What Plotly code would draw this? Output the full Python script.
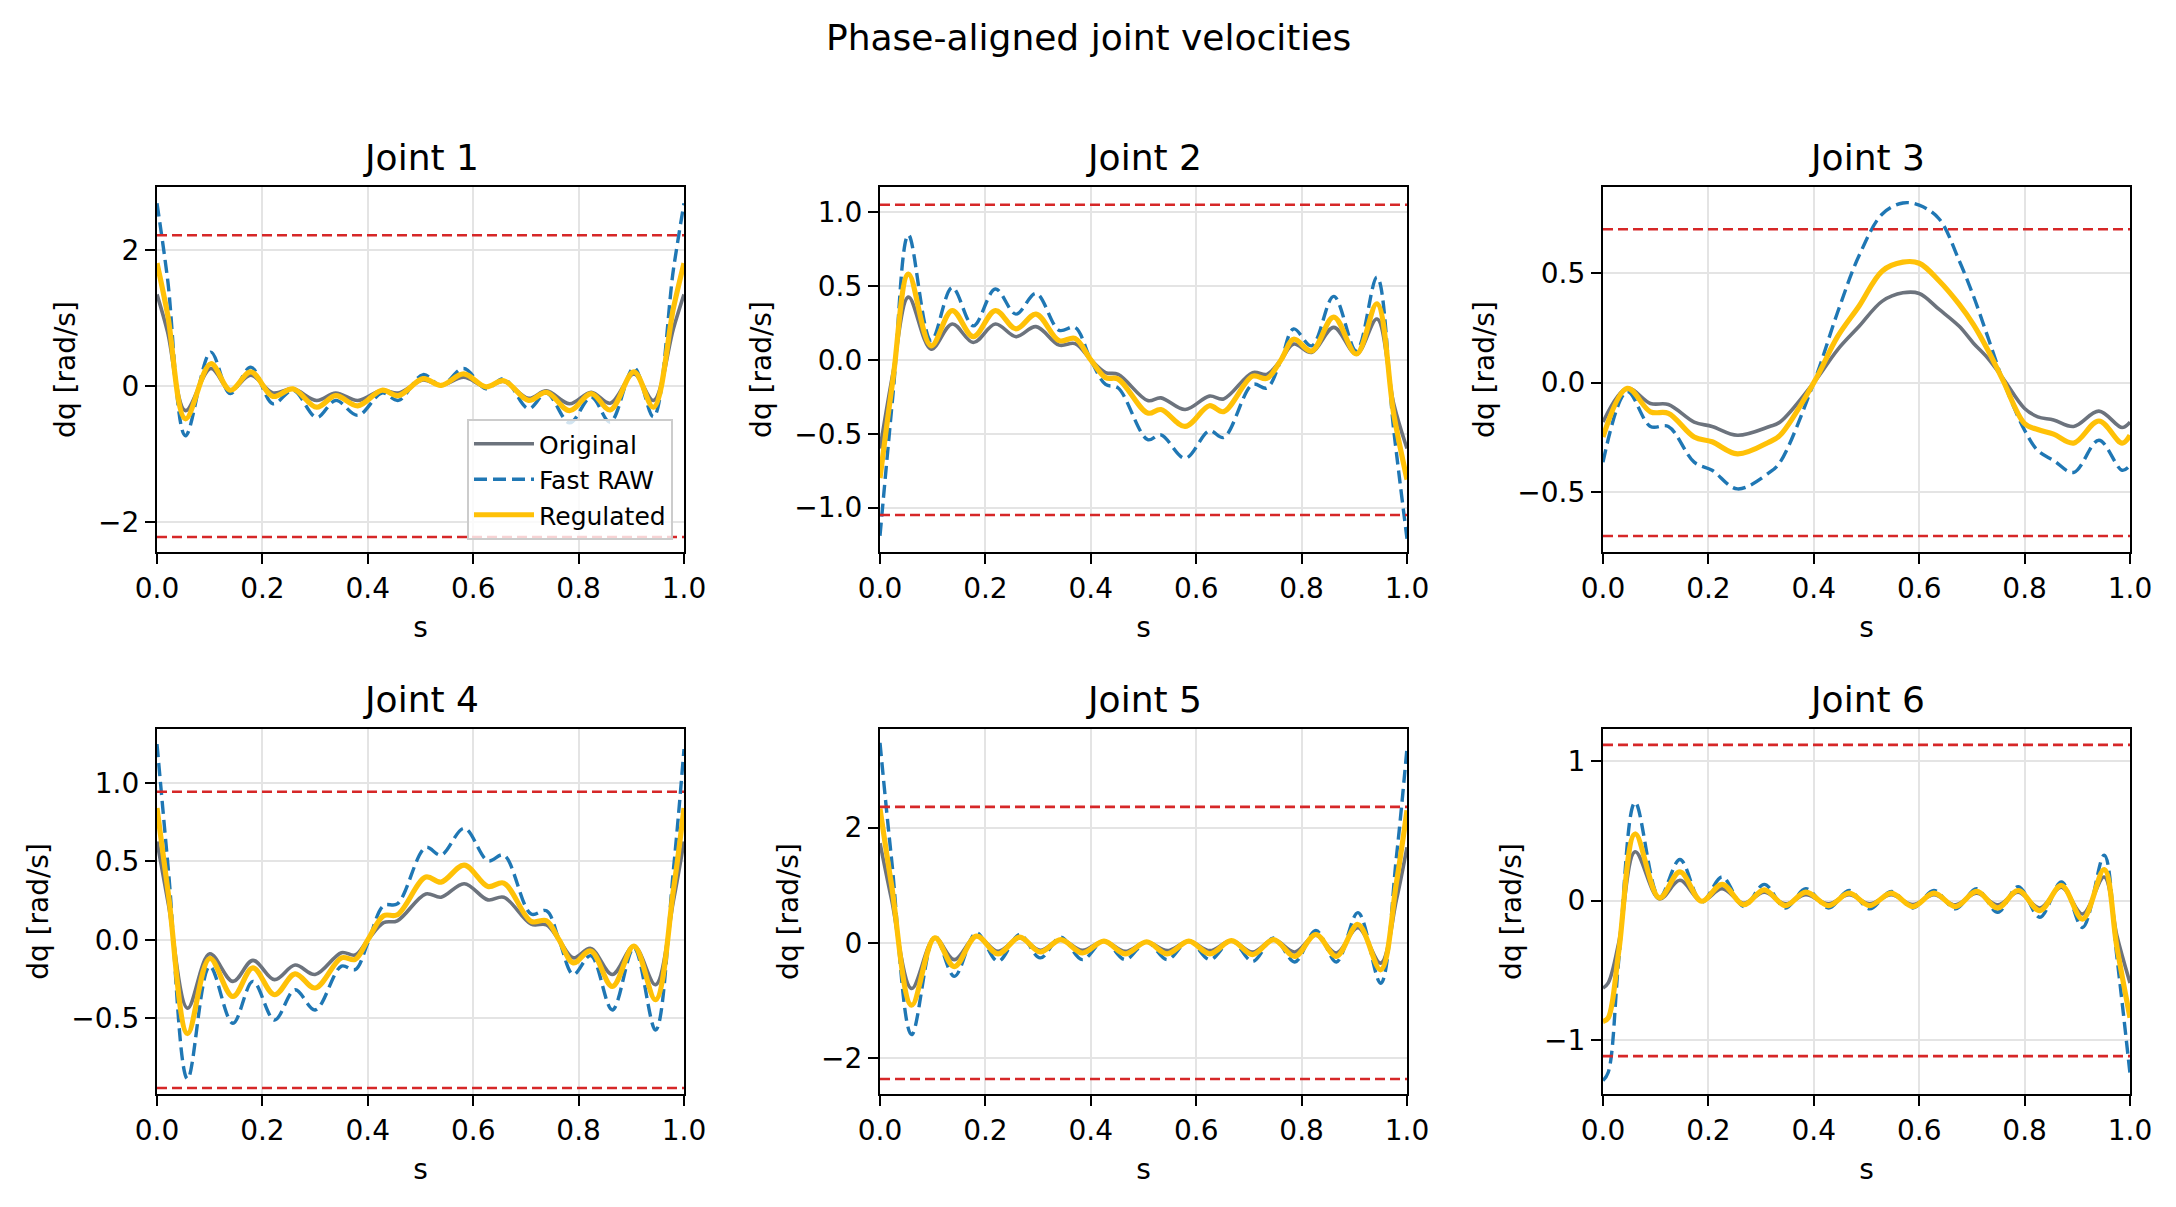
import plotly.graph_objects as go

# ---------------- data ----------------
TITLES = ["Joint 1", "Joint 2", "Joint 3", "Joint 4", "Joint 5", "Joint 6"]
SERIES = ["Original", "Fast RAW", "Regulated"]

S1 = [0, 0.02, 0.054, 0.102, 0.139, 0.178, 0.22, 0.258, 0.303, 0.339, 0.381, 0.427, 0.458, 0.505,
      0.539, 0.582, 0.624, 0.658, 0.705, 0.739, 0.783, 0.824, 0.86, 0.905, 0.942, 0.98, 1.0]
ORIG1 = [1.35, 0.80, -0.36, 0.26, -0.06, 0.16, -0.10, -0.04, -0.21, -0.10, -0.21, -0.06, -0.10, 0.09,
         0.01, 0.13, -0.01, 0.07, -0.18, -0.07, -0.26, -0.09, -0.25, 0.18, -0.21, 0.85, 1.35]
FAST1 = [2.69, 1.58, -0.73, 0.50, -0.11, 0.28, -0.26, -0.06, -0.46, -0.21, -0.43, -0.10, -0.21, 0.17,
         0.01, 0.26, -0.04, 0.11, -0.33, -0.10, -0.54, -0.16, -0.53, 0.27, -0.45, 1.72, 2.69]
REG1 = [1.81, 1.06, -0.48, 0.33, -0.06, 0.21, -0.15, -0.04, -0.31, -0.14, -0.29, -0.06, -0.14, 0.11,
        0.01, 0.18, -0.01, 0.08, -0.21, -0.09, -0.36, -0.11, -0.35, 0.21, -0.31, 1.15, 1.81]

S2 = [0, 0.025, 0.054, 0.097, 0.137, 0.177, 0.219, 0.258, 0.296, 0.34, 0.37, 0.40, 0.428, 0.452,
      0.508, 0.533, 0.579, 0.625, 0.652, 0.707, 0.734, 0.761, 0.785, 0.819, 0.861, 0.904, 0.943, 0.975, 1.0]
ORIG2 = [-0.60, -0.08, 0.425, 0.073, 0.243, 0.118, 0.243, 0.157, 0.225, 0.10, 0.11, 0.0, -0.086, -0.098,
         -0.275, -0.257, -0.336, -0.245, -0.264, -0.086, -0.098, 0.0, 0.107, 0.05, 0.22, 0.039, 0.277, -0.30, -0.60]
FAST2 = [-1.19, -0.22, 0.845, 0.13, 0.49, 0.23, 0.48, 0.31, 0.45, 0.20, 0.22, 0.0, -0.166, -0.19,
         -0.54, -0.507, -0.666, -0.48, -0.525, -0.166, -0.19, 0.0, 0.21, 0.095, 0.43, 0.06, 0.56, -0.48, -1.21]
REG2 = [-0.80, -0.12, 0.58, 0.095, 0.334, 0.157, 0.334, 0.21, 0.31, 0.13, 0.145, 0.0, -0.12, -0.13,
        -0.36, -0.336, -0.45, -0.31, -0.35, -0.11, -0.125, 0.0, 0.14, 0.06, 0.29, 0.04, 0.38, -0.37, -0.81]

S3 = [0, 0.046, 0.09, 0.124, 0.173, 0.207, 0.255, 0.316, 0.336, 0.40, 0.445, 0.486, 0.53, 0.569,
      0.60, 0.638, 0.676, 0.703, 0.73, 0.759, 0.80, 0.825, 0.855, 0.893, 0.941, 0.985, 1.0]
ORIG3 = [-0.18, -0.026, -0.095, -0.10, -0.18, -0.20, -0.24, -0.20, -0.18, 0.0, 0.15, 0.257, 0.372, 0.41,
         0.407, 0.334, 0.257, 0.18, 0.112, 0.02, -0.118, -0.156, -0.17, -0.20, -0.13, -0.205, -0.18]
FAST3 = [-0.363, -0.041, -0.20, -0.20, -0.363, -0.40, -0.485, -0.41, -0.363, 0.0, 0.32, 0.58, 0.77, 0.82,
         0.81, 0.747, 0.556, 0.395, 0.21, 0.01, -0.217, -0.31, -0.355, -0.41, -0.263, -0.40, -0.378]
REG3 = [-0.248, -0.026, -0.133, -0.14, -0.248, -0.27, -0.325, -0.27, -0.24, 0.0, 0.21, 0.35, 0.51, 0.55,
        0.545, 0.464, 0.357, 0.265, 0.15, 0.01, -0.187, -0.214, -0.235, -0.276, -0.175, -0.276, -0.24]

S4 = [0, 0.022, 0.058, 0.10, 0.144, 0.182, 0.223, 0.262, 0.30, 0.35, 0.376, 0.40, 0.43, 0.456, 0.51,
      0.539, 0.583, 0.628, 0.658, 0.71, 0.739, 0.763, 0.79, 0.823, 0.864, 0.905, 0.946, 0.98, 1.0]
ORIG4 = [0.626, 0.22, -0.435, -0.088, -0.264, -0.13, -0.253, -0.16, -0.22, -0.081, -0.096, 0.0, 0.11, 0.122,
         0.293, 0.272, 0.358, 0.255, 0.272, 0.10, 0.096, 0.0, -0.114, -0.054, -0.22, -0.039, -0.285, 0.25, 0.626]
FAST4 = [1.247, 0.43, -0.885, -0.167, -0.531, -0.264, -0.51, -0.317, -0.446, -0.167, -0.189, -0.02, 0.219, 0.229,
         0.589, 0.54, 0.711, 0.504, 0.54, 0.165, 0.186, 0.0, -0.22, -0.10, -0.446, -0.05, -0.574, 0.45, 1.215]
REG4 = [0.84, 0.28, -0.596, -0.118, -0.36, -0.178, -0.349, -0.216, -0.306, -0.114, -0.124, 0.0, 0.154, 0.16,
        0.40, 0.368, 0.476, 0.34, 0.362, 0.118, 0.122, 0.0, -0.146, -0.07, -0.296, -0.039, -0.381, 0.32, 0.84]

S5 = [0, 0.022, 0.06, 0.104, 0.141, 0.183, 0.224, 0.265, 0.304, 0.343, 0.384, 0.425, 0.465, 0.506,
      0.545, 0.586, 0.626, 0.667, 0.707, 0.747, 0.787, 0.827, 0.866, 0.907, 0.95, 0.98, 1.0]
ORIG5 = [1.73, 0.75, -0.79, 0.087, -0.29, 0.117, -0.146, 0.087, -0.128, 0.058, -0.128, 0.03, -0.146, 0.017,
         -0.134, 0.03, -0.134, 0.04, -0.157, 0.058, -0.157, 0.134, -0.175, 0.262, -0.35, 0.75, 1.66]
FAST5 = [3.47, 1.45, -1.59, 0.117, -0.58, 0.175, -0.32, 0.146, -0.26, 0.10, -0.29, 0.04, -0.29, 0.017,
         -0.29, 0.04, -0.29, 0.04, -0.32, 0.087, -0.33, 0.216, -0.33, 0.525, -0.70, 1.50, 3.38]
REG5 = [2.33, 1.00, -1.08, 0.087, -0.41, 0.117, -0.19, 0.10, -0.157, 0.058, -0.175, 0.03, -0.19, 0.017,
        -0.19, 0.03, -0.19, 0.04, -0.204, 0.058, -0.233, 0.146, -0.233, 0.32, -0.466, 1.05, 2.30]

S6 = [0, 0.01, 0.03, 0.061, 0.107, 0.146, 0.187, 0.226, 0.267, 0.306, 0.346, 0.385, 0.428, 0.467,
      0.506, 0.547, 0.588, 0.628, 0.669, 0.709, 0.749, 0.788, 0.829, 0.87, 0.91, 0.951, 0.975, 1.0]
ORIG6 = [-0.627, -0.59, -0.30, 0.35, 0.012, 0.145, -0.005, 0.084, -0.019, 0.06, -0.024, 0.041, -0.024, 0.041,
         -0.024, 0.041, -0.029, 0.041, -0.031, 0.053, -0.031, 0.06, -0.053, 0.096, -0.096, 0.169, -0.25, -0.59]
FAST6 = [-1.29, -1.23, -0.42, 0.703, 0.024, 0.294, -0.012, 0.169, -0.043, 0.116, -0.053, 0.084, -0.053, 0.072,
         -0.06, 0.065, -0.053, 0.072, -0.06, 0.084, -0.084, 0.10, -0.12, 0.133, -0.193, 0.325, -0.40, -1.24]
REG6 = [-0.867, -0.84, -0.36, 0.477, 0.019, 0.205, -0.005, 0.116, -0.029, 0.077, -0.036, 0.06, -0.036, 0.053,
        -0.036, 0.053, -0.043, 0.053, -0.043, 0.065, -0.053, 0.072, -0.072, 0.108, -0.133, 0.222, -0.33, -0.84]

LIMITS = [2.22, 1.05, 0.70, 0.943, 2.36, 1.115]
YRANGES = [[-2.44, 2.93], [-1.30, 1.17], [-0.773, 0.893], [-0.981, 1.343], [-2.62, 3.71], [-1.386, 1.229]]
YTICKS = [[-2, 0, 2], [-1.0, -0.5, 0.0, 0.5, 1.0], [-0.5, 0.0, 0.5], [-0.5, 0.0, 0.5, 1.0], [-2, 0, 2], [-1, 0, 1]]
YTICKTEXT = [["−2", "0", "2"], ["−1.0", "−0.5", "0.0", "0.5", "1.0"], ["−0.5", "0.0", "0.5"],
             ["−0.5", "0.0", "0.5", "1.0"], ["−2", "0", "2"], ["−1", "0", "1"]]
XTICKS = [0.0, 0.2, 0.4, 0.6, 0.8, 1.0]
XTICKTEXT = ["0.0", "0.2", "0.4", "0.6", "0.8", "1.0"]

S_ALL = [S1, S2, S3, S4, S5, S6]
ORIG_ALL = [ORIG1, ORIG2, ORIG3, ORIG4, ORIG5, ORIG6]
FAST_ALL = [FAST1, FAST2, FAST3, FAST4, FAST5, FAST6]
REG_ALL = [REG1, REG2, REG3, REG4, REG5, REG6]

# ---------------- layout geometry ----------------
W, H = 2176, 1207
COLS_PX = [(157, 684), (880, 1407), (1603, 2130)]
ROWS_PX = [(187, 552), (729, 1094)]
FONT = "DejaVu Sans"

C_ORIG = "#6c737d"
C_FAST = "#1f77b4"
C_REG = "#ffc107"
C_LIM = "#d62728"

fig = go.Figure()
layout_axes = {}
annotations = []

for i in range(6):
    r, c = divmod(i, 3)
    sfx = "" if i == 0 else str(i + 1)
    xa, ya = "x" + sfx, "y" + sfx
    x0, x1 = COLS_PX[c]
    yt, yb = ROWS_PX[r]

    fig.add_trace(go.Scatter(x=S_ALL[i], y=ORIG_ALL[i], mode="lines", name=SERIES[0],
                             line=dict(color=C_ORIG, width=3.6, shape="spline", smoothing=1.0),
                             xaxis=xa, yaxis=ya, showlegend=(i == 0), legendrank=1))
    fig.add_trace(go.Scatter(x=S_ALL[i], y=FAST_ALL[i], mode="lines", name=SERIES[1],
                             line=dict(color=C_FAST, width=3.4, dash="13px,6px", shape="spline", smoothing=1.0),
                             xaxis=xa, yaxis=ya, showlegend=(i == 0), legendrank=2))
    fig.add_trace(go.Scatter(x=S_ALL[i], y=REG_ALL[i], mode="lines", name=SERIES[2],
                             line=dict(color=C_REG, width=5.2, shape="spline", smoothing=1.0),
                             xaxis=xa, yaxis=ya, showlegend=(i == 0), legendrank=3))
    for sgn in (1, -1):
        fig.add_trace(go.Scatter(x=[0, 1], y=[sgn * LIMITS[i]] * 2, mode="lines",
                                 line=dict(color=C_LIM, width=2.6, dash="10px,5px"),
                                 xaxis=xa, yaxis=ya, showlegend=False, hoverinfo="skip"))

    common = dict(showline=True, linecolor="black", linewidth=2.2, mirror=True,
                  ticks="outside", ticklen=10, tickwidth=2.2, tickcolor="black",
                  showgrid=True, gridcolor="#e4e4e4", gridwidth=2, zeroline=False,
                  automargin=False,
                  tickfont=dict(family=FONT, size=28, color="black"))
    layout_axes["xaxis" + sfx] = dict(
        domain=[x0 / W, x1 / W], anchor=ya, range=[0, 1],
        tickvals=XTICKS, ticktext=XTICKTEXT,
        title=dict(text="s", font=dict(family=FONT, size=28, color="black"), standoff=14),
        **common)
    layout_axes["yaxis" + sfx] = dict(
        domain=[1 - yb / H, 1 - yt / H], anchor=xa, range=YRANGES[i],
        tickvals=YTICKS[i], ticktext=YTICKTEXT[i],
        title=dict(text="dq [rad/s]", font=dict(family=FONT, size=28, color="black"), standoff=14),
        **common)
    annotations.append(dict(text=TITLES[i], x=(x0 + x1) / 2 / W, y=1 - (yt - 7) / H,
                            xref="paper", yref="paper", xanchor="center", yanchor="bottom",
                            showarrow=False, font=dict(family=FONT, size=36, color="black")))

annotations.append(dict(text="Phase-aligned joint velocities", x=1088 / W, y=1 - 37 / H,
                        xref="paper", yref="paper", xanchor="center", yanchor="middle",
                        showarrow=False, font=dict(family=FONT, size=36, color="black")))

fig.update_layout(
    width=W, height=H, autosize=False,
    margin=dict(l=0, r=0, t=0, b=0, autoexpand=False),
    paper_bgcolor="white", plot_bgcolor="white",
    font=dict(family=FONT, size=28, color="black"),
    annotations=annotations,
    legend=dict(x=673 / W, y=1 - 540 / H, xanchor="right", yanchor="bottom",
                bgcolor="rgba(255,255,255,0.8)", bordercolor="#cccccc", borderwidth=2,
                font=dict(family=FONT, size=25, color="black"), itemwidth=60,
                traceorder="normal"),
    **layout_axes,
)

fig.write_html("out.html")
